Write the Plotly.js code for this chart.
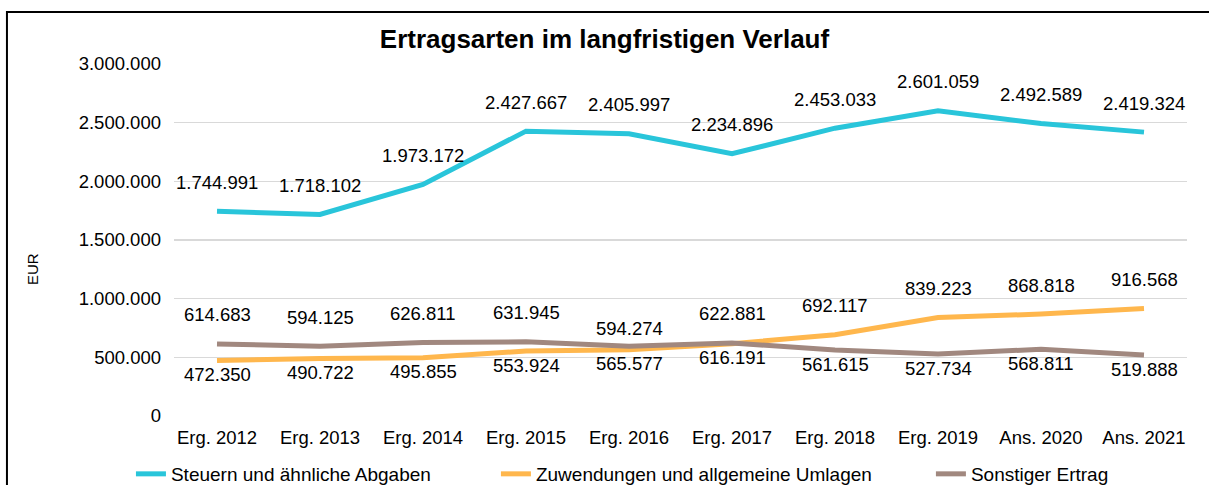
<!DOCTYPE html>
<html><head><meta charset="utf-8">
<script src="https://cdn.plot.ly/plotly-3.0.1.min.js"></script>
<style>html,body{margin:0;padding:0;background:#fff;overflow:hidden}#chart{width:1209px;height:485px}</style>
</head><body><div id="chart"></div>
<script>
const categories = ["Erg. 2012","Erg. 2013","Erg. 2014","Erg. 2015","Erg. 2016","Erg. 2017","Erg. 2018","Erg. 2019","Ans. 2020","Ans. 2021"];
const seriesNames = ["Steuern und ähnliche Abgaben","Zuwendungen und allgemeine Umlagen","Sonstiger Ertrag"];
const steuern = [1744991,1718102,1973172,2427667,2405997,2234896,2453033,2601059,2492589,2419324];
const zuwendungen = [472350,490722,495855,553924,565577,616191,692117,839223,868818,916568];
const sonstiger = [614683,594125,626811,631945,594274,622881,561615,527734,568811,519888];

// label placement (style): 'a' = above, 'b' = below
const steuernSide = ["a","a","a","a","a","a","a","a","a","a"];
const zuwSide     = ["b","b","b","b","b","b","a","a","a","a"];
const sonstSide   = ["a","a","a","a","a","a","b","b","b","b"];

const colors = ["#29C5DA","#FFB74D","#A1887F"];
const FONT = "Arial, 'Liberation Sans', sans-serif";

function fmt(v){ return String(v).replace(/\B(?=(\d{3})+(?!\d))/g, "."); }

const series = [steuern, zuwendungen, sonstiger];
const sides = [steuernSide, zuwSide, sonstSide];
const legendIds = ["legend","legend2","legend3"];

const traces = series.map((vals, k) => ({
  type: "scatter", mode: "lines", x: categories, y: vals, name: seriesNames[k],
  line: {color: colors[k], width: 5}, legend: legendIds[k], hoverinfo: "skip"
}));

const annotations = [];
series.forEach((vals, k) => {
  vals.forEach((v, i) => {
    let shift = sides[k][i] === "a" ? 29 : -14;
    if (k === 2 && i === 4) shift = 18;
    annotations.push({x: categories[i], y: v, xref: "x", yref: "y", text: fmt(v), showarrow: false,
      yshift: shift, font: {family: FONT, size: 18.5, color: "#000"}});
  });
});
annotations.push({text: "EUR", xref: "paper", yref: "paper", x: -0.139, y: 0.418, textangle: -90,
  showarrow: false, xanchor: "center", yanchor: "middle", font: {family: FONT, size: 15, color: "#000"}});

const legendBase = {orientation: "h", yref: "container", y: 0.0227, yanchor: "middle", xanchor: "left",
  bgcolor: "rgba(0,0,0,0)", font: {family: FONT, size: 19, color: "#000"}};

const layout = {
  width: 1209, height: 485,
  margin: {l: 174, r: 22, t: 64, b: 69},
  paper_bgcolor: "#fff", plot_bgcolor: "#fff",
  separators: ",.",
  font: {family: FONT, size: 18, color: "#000"},
  title: {text: "<b>Ertragsarten im langfristigen Verlauf</b>", x: 0.5, xref: "container", y: 0.9195, yref: "container",
    yanchor: "middle", xanchor: "center", font: {family: FONT, size: 26, color: "#000"}},
  xaxis: {type: "category", showgrid: false, showline: false, zeroline: false, ticks: "", ticklabelstandoff: 8,
    tickfont: {family: FONT, size: 18.5, color: "#000"}},
  yaxis: {range: [0, 3000000], dtick: 500000, tick0: 0, tickformat: ",d", showgrid: true, gridcolor: "#D9D9D9",
    gridwidth: 1.5, zeroline: false, showline: false, ticks: "", ticklabelstandoff: 12,
    tickfont: {family: FONT, size: 18.5, color: "#000"}},
  showlegend: true,
  legend: Object.assign({}, legendBase, {x: -0.0425}),
  legend2: Object.assign({}, legendBase, {x: 0.3178}),
  legend3: Object.assign({}, legendBase, {x: 0.7472}),
  annotations: annotations,
  shapes: [{type: "rect", xref: "paper", yref: "paper", x0: -0.1649, x1: 1.2, y0: -0.4, y1: 1.1477,
    line: {color: "#000", width: 2}, fillcolor: "rgba(0,0,0,0)", layer: "above"}]
};

Plotly.newPlot("chart", traces, layout, {displayModeBar: false, staticPlot: true});
</script></body></html>
